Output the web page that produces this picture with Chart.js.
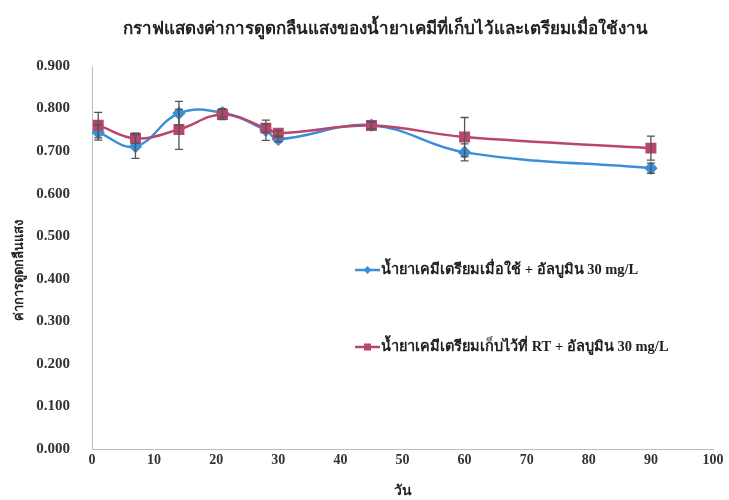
<!DOCTYPE html>
<html>
<head>
<meta charset="utf-8">
<script src="https://cdn.jsdelivr.net/npm/chart.js@4.4.1/dist/chart.umd.min.js"></script>
<style>
  html, body { margin: 0; padding: 0; background: #fff; }
  #wrap { width: 729px; height: 500px; }
</style>
</head>
<body>
<div id="wrap"><canvas id="c" width="729" height="500"></canvas></div>
<script>
// Sampling days
const days = [1, 7, 14, 21, 28, 30, 45, 60, 90];

// Freshly prepared reagent + albumin 30 mg/L
const freshValues = [0.744, 0.711, 0.789, 0.790, 0.749, 0.728, 0.761, 0.697, 0.660];
const freshErrors = [0.018, 0.028, 0.028, 0.010, 0.024, 0.006, 0.008, 0.020, 0.012];

// Reagent stored at RT + albumin 30 mg/L
const storedValues = [0.761, 0.730, 0.751, 0.786, 0.754, 0.742, 0.760, 0.733, 0.707];
const storedErrors = [0.030, 0.012, 0.047, 0.012, 0.010, 0.006, 0.008, 0.046, 0.028];

const seriesNames = [
  'น้ำยาเคมีเตรียมเมื่อใช้ + อัลบูมิน 30 mg/L',
  'น้ำยาเคมีเตรียมเก็บไว้ที่ RT + อัลบูมิน 30 mg/L'
];
const chartTitle = 'กราฟแสดงค่าการดูดกลืนแสงของน้ำยาเคมีที่เก็บไว้และเตรียมเมื่อใช้งาน';
const yTitle = 'ค่าการดูดกลืนแสง';
const xTitle = 'วัน';

const BLUE = '#3a8fd6';
const RED = '#b9466c';
const FONT = "'Liberation Serif', 'Noto Sans', serif";

const toPoints = (xs, ys) => xs.map((x, i) => ({ x: x, y: ys[i] }));

// Vertical error bars with caps, positioned through the chart scales
const errorBars = {
  id: 'errorBars',
  afterDatasetsDraw(chart) {
    const { ctx, scales: { x, y } } = chart;
    ctx.save();
    ctx.strokeStyle = '#555';
    ctx.lineWidth = 1.3;
    chart.data.datasets.forEach(ds => {
      ds.data.forEach((p, i) => {
        const e = ds.errors[i];
        const px = x.getPixelForValue(p.x);
        const y1 = y.getPixelForValue(p.y - e);
        const y2 = y.getPixelForValue(p.y + e);
        ctx.beginPath();
        ctx.moveTo(px, y1); ctx.lineTo(px, y2);
        ctx.moveTo(px - 4, y1); ctx.lineTo(px + 4, y1);
        ctx.moveTo(px - 4, y2); ctx.lineTo(px + 4, y2);
        ctx.stroke();
      });
    });
    ctx.restore();
  }
};

// Title, vertical axis title and in-plot legend
const decorations = {
  id: 'decorations',
  afterDraw(chart) {
    const { ctx } = chart;
    ctx.save();
    ctx.fillStyle = '#222';
    ctx.font = "bold 17px " + FONT;
    ctx.textAlign = 'center';
    ctx.textBaseline = 'middle';
    ctx.fillText(chartTitle, 385, 30);

    ctx.save();
    ctx.translate(20, 270);
    ctx.rotate(-Math.PI / 2);
    ctx.font = "bold 13px " + FONT;
    ctx.fillText(yTitle, 0, 0);
    ctx.restore();

    const items = [
      { color: BLUE, style: 'rectRot', yy: 270, label: seriesNames[0] },
      { color: RED, style: 'rect', yy: 347, label: seriesNames[1] }
    ];
    items.forEach(it => {
      ctx.strokeStyle = it.color;
      ctx.lineWidth = 2.5;
      ctx.beginPath();
      ctx.moveTo(355, it.yy); ctx.lineTo(380, it.yy);
      ctx.stroke();
      ctx.fillStyle = it.color;
      Chart.helpers.drawPoint(ctx, { pointStyle: it.style, radius: it.style === 'rect' ? 5 : 4, rotation: 0, borderWidth: 0 }, 367.5, it.yy);
      ctx.fillStyle = '#222';
      ctx.font = "bold 14.5px " + FONT;
      ctx.textAlign = 'left';
      ctx.fillText(it.label, 381, it.yy);
    });
    ctx.restore();
  }
};

new Chart(document.getElementById('c'), {
  type: 'line',
  data: {
    datasets: [
      {
        label: seriesNames[0],
        data: toPoints(days, freshValues),
        errors: freshErrors,
        borderColor: BLUE,
        backgroundColor: BLUE,
        borderWidth: 2.5,
        pointStyle: 'rectRot',
        pointRadius: 5,
        pointHoverRadius: 5,
        tension: 0.4,
        order: 2
      },
      {
        label: seriesNames[1],
        data: toPoints(days, storedValues),
        errors: storedErrors,
        borderColor: RED,
        backgroundColor: RED,
        borderWidth: 2.5,
        pointStyle: 'rect',
        pointRadius: 6,
        pointHoverRadius: 6,
        tension: 0.4,
        order: 1
      }
    ]
  },
  options: {
    responsive: false,
    animation: false,
    layout: { padding: { top: 66, right: 16, left: 0, bottom: 0 } },
    plugins: {
      legend: { display: false },
      tooltip: { enabled: false },
      title: { display: false }
    },
    scales: {
      x: {
        type: 'linear',
        min: 0,
        max: 100,
        ticks: {
          stepSize: 10,
          color: '#333',
          padding: 3,
          font: { family: FONT, size: 14, weight: 'bold' }
        },
        grid: { display: false, drawTicks: false },
        border: { display: true, color: '#bdbdbd', width: 1 },
        title: {
          display: true,
          text: xTitle,
          color: '#222',
          padding: { top: 10, bottom: 0 },
          font: { family: FONT, size: 14, weight: 'bold' }
        },
        afterFit(scale) { scale.height = 51; }
      },
      y: {
        min: 0,
        max: 0.9,
        ticks: {
          stepSize: 0.1,
          color: '#333',
          padding: 22,
          callback: v => Number(v).toFixed(3),
          font: { family: FONT, size: 15, weight: 'bold' }
        },
        grid: { display: false, drawTicks: false },
        border: { display: true, color: '#bdbdbd', width: 1 },
        title: { display: false },
        afterFit(scale) { scale.width = 92; }
      }
    }
  },
  plugins: [errorBars, decorations]
});
</script>
</body>
</html>
